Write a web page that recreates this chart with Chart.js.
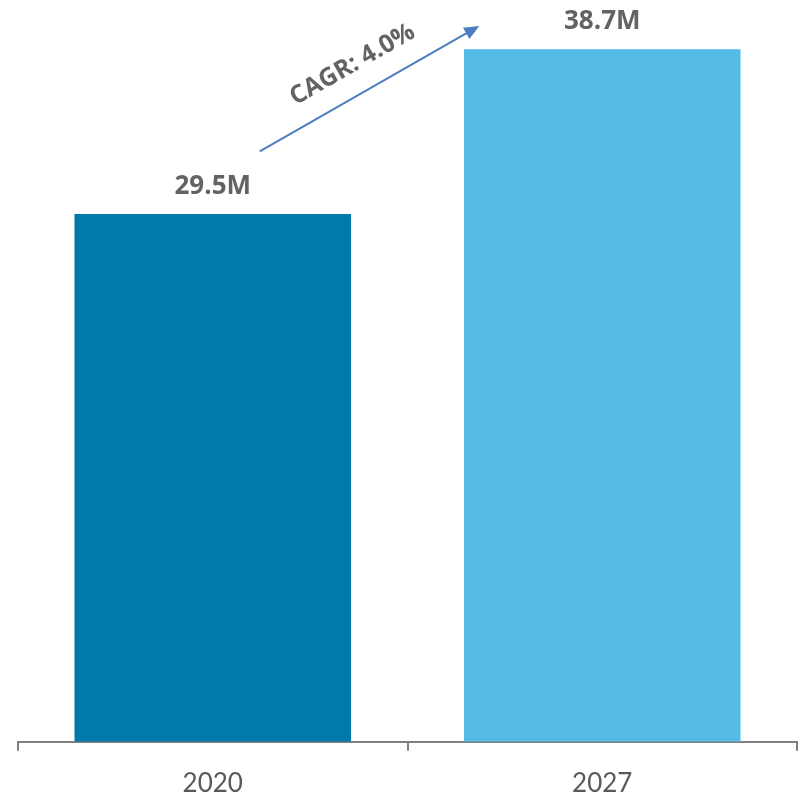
<!DOCTYPE html>
<html>
<head>
<meta charset="utf-8">
<script src="https://cdn.jsdelivr.net/npm/chart.js@4"></script>
<style>
  body { margin: 0; background: #fff; }
  #wrap { width: 798px; height: 797px; }
</style>
</head>
<body>
<div id="wrap"><canvas id="myChart"></canvas></div>
<script>
// data
var years = ['2020', '2027'];
var marketSize = [29.5, 38.7];
var valueLabels = ['29.5M', '38.7M'];
var barColors = ['#007AAA', '#53BBE5'];
var cagrText = 'CAGR: 4.0%';

// labels above the bars
const barLabels = {
    id: 'barLabels',
    afterDatasetsDraw(chart) {
        const ctx = chart.ctx;
        const meta = chart.getDatasetMeta(0);
        ctx.save();
        ctx.font = 'bold 26px "Open Sans"';
        ctx.fillStyle = '#636363';
        ctx.textAlign = 'center';
        ctx.textBaseline = 'alphabetic';
        meta.data.forEach(function (bar, i) {
            ctx.fillText(valueLabels[i], bar.x, bar.y - 20);
        });
        ctx.restore();
    }
};

// CAGR arrow between the two bars
const cagrArrow = {
    id: 'cagrArrow',
    afterDatasetsDraw(chart) {
        const ctx = chart.ctx;
        const x = chart.scales.x;
        const y = chart.scales.y;
        const x0 = x.getPixelForValue(0) + 47;
        const y0 = y.getPixelForValue(33.0);
        const x1 = x.getPixelForValue(1) - 123;
        const y1 = y.getPixelForValue(40.0);
        const ang = Math.atan2(y1 - y0, x1 - x0);

        ctx.save();
        ctx.strokeStyle = '#4A7EC0';
        ctx.fillStyle = '#4A7EC0';
        ctx.lineWidth = 2;
        ctx.beginPath();
        ctx.moveTo(x0, y0);
        ctx.lineTo(x1 - 10 * Math.cos(ang), y1 - 10 * Math.sin(ang));
        ctx.stroke();

        // head
        ctx.translate(x1, y1);
        ctx.rotate(ang);
        ctx.beginPath();
        ctx.moveTo(0, 0);
        ctx.lineTo(-15, -6.5);
        ctx.lineTo(-15, 6.5);
        ctx.closePath();
        ctx.fill();
        ctx.restore();

        // text
        ctx.save();
        const mx = (x0 + x1) / 2 - 17;
        const my = (y0 + y1) / 2 - 24;
        ctx.translate(mx, my);
        ctx.rotate(ang);
        ctx.font = 'bold 25px "Open Sans"';
        ctx.fillStyle = '#636363';
        ctx.textAlign = 'center';
        ctx.textBaseline = 'middle';
        ctx.fillText(cagrText, 0, 0);
        ctx.restore();
    }
};

const data =
{
    labels: years,
    datasets:
    [
        {
            data: marketSize,
            backgroundColor: barColors,
            barPercentage: 0.71,
            categoryPercentage: 1.0
        }
    ]
};

const config =
{
    type: 'bar',
    data,
    options:
    {
        responsive: true,
        maintainAspectRatio: false,
        animation: false,
        layout: { padding: { top: 26, left: 18, right: 1, bottom: -19 } },
        plugins:
        {
            legend: { display: false },
            tooltip: { enabled: false }
        },
        scales:
        {
            x:
            {
                grid:
                {
                    offset: true,
                    drawOnChartArea: false,
                    drawTicks: true,
                    tickLength: 9,
                    color: '#7F7F7F',
                    lineWidth: 2
                },
                border: { display: true, color: '#7F7F7F', width: 2 },
                ticks:
                {
                    color: '#595959',
                    font: { family: 'Lato', size: 26 },
                    padding: 17
                }
            },
            y:
            {
                display: false,
                min: 0,
                max: 40
            }
        }
    },
    plugins: [barLabels, cagrArrow]
};

const myChart = new Chart(document.getElementById('myChart'), config);
</script>
</body>
</html>
